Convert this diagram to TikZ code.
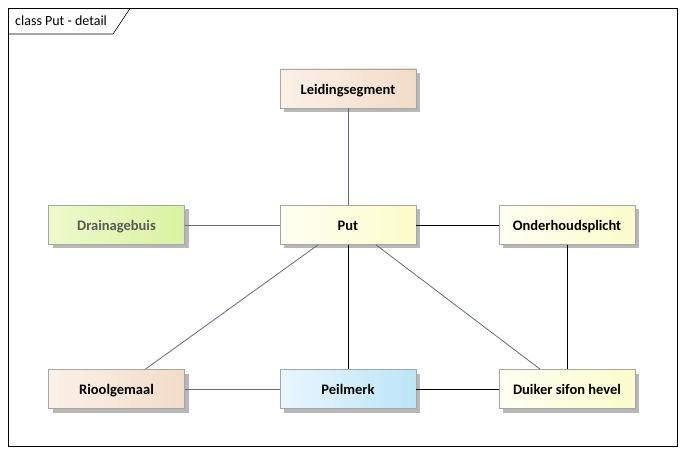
\documentclass[tikz,border=0pt]{standalone}
\usepackage{fontspec}
\setmainfont{Carlito}
\usetikzlibrary{shadows}
\definecolor{edgeblue}{HTML}{5F6B85}
\definecolor{boxborder}{HTML}{A6A6A6}
\definecolor{peachA}{HTML}{FBF1E8}
\definecolor{peachB}{HTML}{F2DCC8}
\definecolor{greenA}{HTML}{EEF9CC}
\definecolor{greenB}{HTML}{D9F3A2}
\definecolor{yellowA}{HTML}{FFFFF4}
\definecolor{yellowB}{HTML}{FCFCCB}
\definecolor{blueA}{HTML}{E8F6FD}
\definecolor{blueB}{HTML}{BCE5F8}
\tikzset{
  cls/.style={draw=boxborder, line width=0.8pt, minimum width=136pt, minimum height=39pt,
    inner sep=0pt, text height=12pt, text depth=0.5pt,
    font=\bfseries\fontsize{14.5}{16}\selectfont, text=black,
    drop shadow={shadow xshift=4pt, shadow yshift=-4pt, fill=black!28, opacity=1}},
  peach/.style={cls, left color=peachA, right color=peachB},
  green/.style={cls, left color=greenA, right color=greenB, text=black!65},
  yellow/.style={cls, left color=yellowA, right color=yellowB},
  blue/.style={cls, left color=blueA, right color=blueB},
  conb/.style={draw=edgeblue, line width=0.8pt},
  conk/.style={draw=black, line width=0.8pt},
}
\begin{document}
\begin{tikzpicture}[x=1pt, y=-1pt]
\useasboundingbox (0,0) rectangle (685,454);
\fill[white] (0,0) rectangle (685,454);
% frame
\draw[black, line width=0.6pt] (8.5,8.5) rectangle (677.5,446.5);
\draw[black, line width=0.6pt] (8.5,34) -- (113,34) -- (130,8.5);
\node[anchor=west, font=\fontsize{14}{16}\selectfont, inner sep=0pt] (title) at (15,21) {class Put - detail};
% nodes
\node[peach]  (leid) at (348,88.5)  {Leidingsegment};
\node[green]  (drain) at (116.5,225) {Drainagebuis};
\node[yellow] (put) at (348,225) {Put};
\node[yellow] (onder) at (567,225) {Onderhoudsplicht};
\node[peach]  (riool) at (116.5,389) {Rioolgemaal};
\node[blue]   (peil) at (348,389) {Peilmerk};
\node[yellow] (duik) at (567,389) {Duiker sifon hevel};
% connectors
\draw[conb] (leid.south) -- (put.north);
\draw[conb] (drain.east) -- (put.west);
\draw[conk] (put.east) -- (onder.west);
\draw[conb] ([xshift=-30pt]put.south) -- ([xshift=29pt]riool.north);
\draw[conk] (put.south) -- (peil.north);
\draw[conb] ([xshift=28pt]put.south) -- ([xshift=-27pt]duik.north);
\draw[conk] (onder.south) -- (duik.north);
\draw[conb] (riool.east) -- (peil.west);
\draw[conk] (peil.east) -- (duik.west);
\end{tikzpicture}
\end{document}
